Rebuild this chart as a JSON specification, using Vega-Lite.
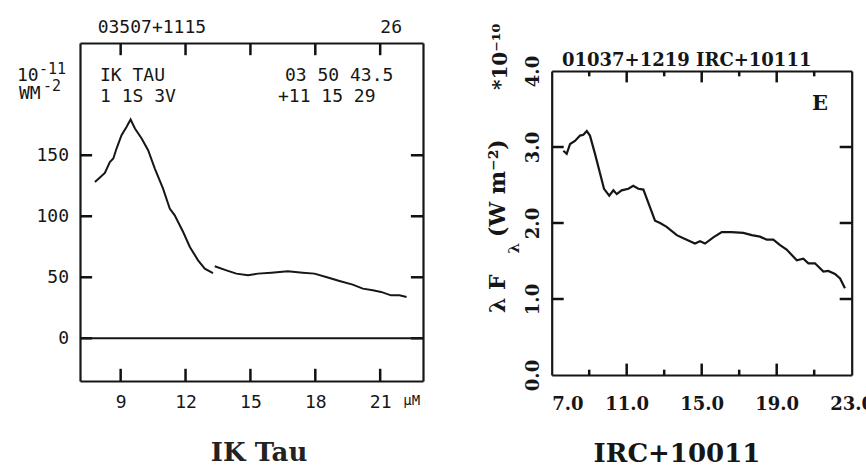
{
  "$schema": "https://vega.github.io/schema/vega-lite/v6.json",
  "width": 866,
  "height": 470,
  "autosize": {"type": "none"},
  "padding": 0,
  "background": "white",
  "config": {
    "view": {"stroke": null},
    "axis": {"grid": false, "domainColor": "#161616", "tickColor": "#161616", "labelColor": "#161616", "domainWidth": 2.2, "title": null}
  },
  "datasets": {
    "iktau": [
      {"seg": 1, "w": 7.81, "f": 128}, {"seg": 1, "w": 8.04, "f": 131.7}, {"seg": 1, "w": 8.27, "f": 135.5}, {"seg": 1, "w": 8.5, "f": 144.5},
      {"seg": 1, "w": 8.66, "f": 147.3}, {"seg": 1, "w": 8.81, "f": 155.5}, {"seg": 1, "w": 9.04, "f": 166.4}, {"seg": 1, "w": 9.27, "f": 173.2},
      {"seg": 1, "w": 9.46, "f": 179.3}, {"seg": 1, "w": 9.66, "f": 171.9}, {"seg": 1, "w": 9.97, "f": 163.7}, {"seg": 1, "w": 10.27, "f": 154.1},
      {"seg": 1, "w": 10.58, "f": 139.1}, {"seg": 1, "w": 10.96, "f": 122.7}, {"seg": 1, "w": 11.27, "f": 106.3}, {"seg": 1, "w": 11.5, "f": 100.8},
      {"seg": 1, "w": 11.89, "f": 87.1}, {"seg": 1, "w": 12.2, "f": 74.8}, {"seg": 1, "w": 12.58, "f": 63.9}, {"seg": 1, "w": 12.89, "f": 57.1},
      {"seg": 1, "w": 13.27, "f": 53.5},
      {"seg": 2, "w": 13.35, "f": 59}, {"seg": 2, "w": 13.89, "f": 55.7}, {"seg": 2, "w": 14.35, "f": 53}, {"seg": 2, "w": 14.89, "f": 51.6},
      {"seg": 2, "w": 15.35, "f": 53}, {"seg": 2, "w": 15.97, "f": 53.8}, {"seg": 2, "w": 16.73, "f": 54.9}, {"seg": 2, "w": 17.42, "f": 53.8},
      {"seg": 2, "w": 17.96, "f": 53}, {"seg": 2, "w": 18.5, "f": 50.3}, {"seg": 2, "w": 19.12, "f": 47}, {"seg": 2, "w": 19.73, "f": 44},
      {"seg": 2, "w": 20.2, "f": 40.7}, {"seg": 2, "w": 20.66, "f": 39.3}, {"seg": 2, "w": 21.04, "f": 38}, {"seg": 2, "w": 21.5, "f": 35.2},
      {"seg": 2, "w": 21.89, "f": 35.2}, {"seg": 2, "w": 22.22, "f": 33.9}
    ],
    "irc": [
      {"w": 7.62, "f": 2.95}, {"w": 7.8, "f": 2.91}, {"w": 7.98, "f": 3.04}, {"w": 8.24, "f": 3.08}, {"w": 8.51, "f": 3.15},
      {"w": 8.69, "f": 3.16}, {"w": 8.87, "f": 3.21}, {"w": 9.04, "f": 3.15}, {"w": 9.31, "f": 2.91}, {"w": 9.58, "f": 2.65},
      {"w": 9.79, "f": 2.45}, {"w": 10.07, "f": 2.36}, {"w": 10.29, "f": 2.43}, {"w": 10.47, "f": 2.38}, {"w": 10.73, "f": 2.43},
      {"w": 11.09, "f": 2.45}, {"w": 11.35, "f": 2.49}, {"w": 11.62, "f": 2.45}, {"w": 11.89, "f": 2.44}, {"w": 12.24, "f": 2.21},
      {"w": 12.51, "f": 2.03}, {"w": 12.78, "f": 2.0}, {"w": 13.13, "f": 1.95}, {"w": 13.67, "f": 1.84}, {"w": 14.11, "f": 1.79},
      {"w": 14.64, "f": 1.73}, {"w": 14.91, "f": 1.76}, {"w": 15.18, "f": 1.73}, {"w": 15.62, "f": 1.81}, {"w": 16.07, "f": 1.88},
      {"w": 16.6, "f": 1.88}, {"w": 17.22, "f": 1.87}, {"w": 17.67, "f": 1.84}, {"w": 18.11, "f": 1.82}, {"w": 18.47, "f": 1.78},
      {"w": 18.82, "f": 1.78}, {"w": 19.18, "f": 1.71}, {"w": 19.53, "f": 1.65}, {"w": 20.07, "f": 1.51}, {"w": 20.42, "f": 1.53},
      {"w": 20.69, "f": 1.47}, {"w": 21.04, "f": 1.47}, {"w": 21.49, "f": 1.36}, {"w": 21.75, "f": 1.37}, {"w": 22.11, "f": 1.33},
      {"w": 22.38, "f": 1.27}, {"w": 22.64, "f": 1.14}
    ]
  },
  "layer": [
    {
      "data": {"name": "iktau"},
      "mark": {"type": "line", "color": "#161616", "strokeWidth": 2},
      "encoding": {
        "detail": {"field": "seg"},
        "x": {"field": "w", "type": "quantitative", "scale": {"domain": [7.12, 22.98], "range": [80, 423], "nice": false, "zero": false},
          "axis": {"orient": "bottom", "offset": -89, "values": [9, 12, 15, 18, 21], "ticks": false, "labelPadding": 12, "labelFlush": false, "labelFont": "DejaVu Sans Mono", "labelFontSize": 18}},
        "y": {"field": "f", "type": "quantitative", "scale": {"domain": [-35, 242], "range": [381, 43], "nice": false, "zero": false},
          "axis": {"orient": "left", "offset": -80, "values": [0, 50, 100, 150], "ticks": false, "labelPadding": 11.5, "labelFont": "DejaVu Sans Mono", "labelFontSize": 18}}
      }
    },
    {
      "data": {"values": [{"t": 9}, {"t": 12}, {"t": 15}, {"t": 18}, {"t": 21}]},
      "mark": {"type": "rule", "color": "#111111", "strokeWidth": 2.5},
      "encoding": {
        "x": {"field": "t", "type": "quantitative", "scale": {"domain": [7.12, 22.98], "range": [80, 423], "nice": false, "zero": false}, "axis": null},
        "y": {"datum": -35, "scale": {"domain": [-35, 242], "range": [381, 43], "nice": false, "zero": false}, "axis": null},
        "y2": {"datum": -25}
      }
    },
    {
      "data": {"values": [{"t": 9}, {"t": 12}, {"t": 15}, {"t": 18}, {"t": 21}]},
      "mark": {"type": "rule", "color": "#111111", "strokeWidth": 2.5},
      "encoding": {
        "x": {"field": "t", "type": "quantitative", "scale": {"domain": [7.12, 22.98], "range": [80, 423], "nice": false, "zero": false}, "axis": null},
        "y": {"datum": 232, "scale": {"domain": [-35, 242], "range": [381, 43], "nice": false, "zero": false}, "axis": null},
        "y2": {"datum": 242}
      }
    },
    {
      "data": {"values": [{"t": 0}, {"t": 50}, {"t": 100}, {"t": 150}]},
      "mark": {"type": "rule", "color": "#111111", "strokeWidth": 2.5},
      "encoding": {
        "y": {"field": "t", "type": "quantitative", "scale": {"domain": [-35, 242], "range": [381, 43], "nice": false, "zero": false}, "axis": null},
        "x": {"datum": 7.12, "scale": {"domain": [7.12, 22.98], "range": [80, 423], "nice": false, "zero": false}, "axis": null},
        "x2": {"datum": 7.68}
      }
    },
    {
      "data": {"values": [{"t": 0}, {"t": 50}, {"t": 100}, {"t": 150}]},
      "mark": {"type": "rule", "color": "#111111", "strokeWidth": 2.5},
      "encoding": {
        "y": {"field": "t", "type": "quantitative", "scale": {"domain": [-35, 242], "range": [381, 43], "nice": false, "zero": false}, "axis": null},
        "x": {"datum": 22.42, "scale": {"domain": [7.12, 22.98], "range": [80, 423], "nice": false, "zero": false}, "axis": null},
        "x2": {"datum": 22.98}
      }
    },
    {
      "data": {"values": [{"level": 0}]},
      "mark": {"type": "rule", "color": "#161616", "strokeWidth": 2},
      "encoding": {
        "x": {"datum": 7.12, "scale": {"domain": [7.12, 22.98], "range": [80, 423], "nice": false, "zero": false}, "axis": null},
        "x2": {"datum": 22.98},
        "y": {"field": "level", "type": "quantitative", "scale": {"domain": [-35, 242], "range": [381, 43], "nice": false, "zero": false}, "axis": null}
      }
    },
    {
      "data": {"name": "iktau"},
      "mark": {"type": "line", "strokeOpacity": 0},
      "encoding": {
        "x": {"field": "w", "type": "quantitative", "scale": {"domain": [7.12, 22.98], "range": [80, 423], "nice": false, "zero": false},
          "axis": {"orient": "top", "offset": -43, "values": [9], "ticks": false, "labels": false}},
        "y": {"field": "f", "type": "quantitative", "scale": {"domain": [-35, 242], "range": [381, 43], "nice": false, "zero": false},
          "axis": {"orient": "right", "offset": -443, "values": [0], "ticks": false, "labels": false}}
      }
    },
    {
      "data": {"values": [
        {"label": "03507+1115", "px": 7.938, "py": 250},
        {"label": "IK TAU", "px": 8.045, "py": 210.9},
        {"label": "1 1S 3V", "px": 8.045, "py": 193.9},
        {"label": "03 50 43.5", "px": 16.599, "py": 210.9},
        {"label": "+11 15 29", "px": 16.275, "py": 193.9}
      ]},
      "mark": {"type": "text", "font": "DejaVu Sans Mono", "fontSize": 18, "baseline": "alphabetic", "align": "left", "color": "#161616"},
      "encoding": {
        "text": {"field": "label"},
        "x": {"field": "px", "type": "quantitative", "scale": {"domain": [7.12, 22.98], "range": [80, 423], "nice": false, "zero": false}, "axis": null},
        "y": {"field": "py", "type": "quantitative", "scale": {"domain": [-35, 242], "range": [381, 43], "nice": false, "zero": false}, "axis": null}
      }
    },
    {
      "data": {"values": [
        {"label": "10", "px": 4.207, "py": 210.86, "fs": 18},
        {"label": "-11", "px": 5.224, "py": 216.6, "fs": 15},
        {"label": "WM", "px": 4.3, "py": 196.4, "fs": 18},
        {"label": "-2", "px": 5.41, "py": 202.6, "fs": 15}
      ]},
      "mark": {"type": "text", "font": "DejaVu Sans Mono", "baseline": "alphabetic", "align": "left", "color": "#161616"},
      "encoding": {
        "text": {"field": "label"},
        "size": {"field": "fs", "type": "quantitative", "scale": null},
        "x": {"field": "px", "type": "quantitative", "scale": {"domain": [7.12, 22.98], "range": [80, 423], "nice": false, "zero": false}, "axis": null},
        "y": {"field": "py", "type": "quantitative", "scale": {"domain": [-35, 242], "range": [381, 43], "nice": false, "zero": false}, "axis": null}
      }
    },
    {
      "data": {"values": [{"label": "26"}]},
      "mark": {"type": "text", "font": "DejaVu Sans Mono", "fontSize": 18, "baseline": "alphabetic", "align": "right", "color": "#161616"},
      "encoding": {
        "text": {"field": "label"},
        "x": {"datum": 22.009, "scale": {"domain": [7.12, 22.98], "range": [80, 423], "nice": false, "zero": false}, "axis": null},
        "y": {"datum": 250, "scale": {"domain": [-35, 242], "range": [381, 43], "nice": false, "zero": false}, "axis": null}
      }
    },
    {
      "data": {"values": [{"label": "µM"}]},
      "mark": {"type": "text", "font": "DejaVu Sans Mono", "fontSize": 14, "baseline": "alphabetic", "align": "left", "color": "#161616"},
      "encoding": {
        "text": {"field": "label"},
        "x": {"datum": 22.069, "scale": {"domain": [7.12, 22.98], "range": [80, 423], "nice": false, "zero": false}, "axis": null},
        "y": {"datum": -54.67, "scale": {"domain": [-35, 242], "range": [381, 43], "nice": false, "zero": false}, "axis": null}
      }
    },
    {
      "data": {"values": [{"label": "IK Tau"}]},
      "mark": {"type": "text", "font": "DejaVu Serif", "fontWeight": "bold", "fontSize": 26, "baseline": "alphabetic", "align": "center", "color": "#222222"},
      "encoding": {
        "text": {"field": "label"},
        "x": {"datum": 15.4, "scale": {"domain": [7.12, 22.98], "range": [80, 423], "nice": false, "zero": false}, "axis": null},
        "y": {"datum": -100.6, "scale": {"domain": [-35, 242], "range": [381, 43], "nice": false, "zero": false}, "axis": null}
      }
    },
    {
      "data": {"name": "irc"},
      "mark": {"type": "line", "color": "#161616", "strokeWidth": 2.2},
      "encoding": {
        "x": {"field": "w", "type": "quantitative", "scale": {"domain": [7, 23], "range": [551.7, 851.7], "nice": false, "zero": false},
          "axis": {"orient": "bottom", "offset": -95, "values": [7, 11, 15, 19, 23], "format": ".1f", "ticks": false, "labelPadding": 20, "labelFlush": false,
            "labelAlign": {"condition": {"test": "datum.value <= 7", "value": "left"}, "value": "center"},
            "labelFont": "DejaVu Serif", "labelFontWeight": "bold", "labelFontSize": 18}},
        "y": {"field": "f", "type": "quantitative", "scale": {"domain": [0, 4], "range": [375, 71], "nice": false, "zero": false},
          "axis": {"orient": "left", "offset": -551.7, "values": [0, 1, 2, 3, 4], "format": ".1f", "ticks": false, "labelPadding": 13.7, "labelAngle": 270,
            "labelAlign": "center", "labelBaseline": "alphabetic",
            "labelFont": "DejaVu Serif", "labelFontWeight": "bold", "labelFontSize": 18}}
      }
    },
    {
      "data": {"values": [{"t": 11}, {"t": 15}, {"t": 19}]},
      "mark": {"type": "rule", "color": "#111111", "strokeWidth": 2.5},
      "encoding": {
        "x": {"field": "t", "type": "quantitative", "scale": {"domain": [7, 23], "range": [551.7, 851.7], "nice": false, "zero": false}, "axis": null},
        "y": {"datum": 0, "scale": {"domain": [0, 4], "range": [375, 71], "nice": false, "zero": false}, "axis": null},
        "y2": {"datum": 0.15}
      }
    },
    {
      "data": {"values": [{"t": 11}, {"t": 15}, {"t": 19}]},
      "mark": {"type": "rule", "color": "#111111", "strokeWidth": 2.5},
      "encoding": {
        "x": {"field": "t", "type": "quantitative", "scale": {"domain": [7, 23], "range": [551.7, 851.7], "nice": false, "zero": false}, "axis": null},
        "y": {"datum": 3.85, "scale": {"domain": [0, 4], "range": [375, 71], "nice": false, "zero": false}, "axis": null},
        "y2": {"datum": 4}
      }
    },
    {
      "data": {"values": [{"t": 9}, {"t": 13}, {"t": 17}, {"t": 21}]},
      "mark": {"type": "rule", "color": "#111111", "strokeWidth": 2.5},
      "encoding": {
        "x": {"field": "t", "type": "quantitative", "scale": {"domain": [7, 23], "range": [551.7, 851.7], "nice": false, "zero": false}, "axis": null},
        "y": {"datum": 0, "scale": {"domain": [0, 4], "range": [375, 71], "nice": false, "zero": false}, "axis": null},
        "y2": {"datum": 0.07}
      }
    },
    {
      "data": {"values": [{"t": 9}, {"t": 13}, {"t": 17}, {"t": 21}]},
      "mark": {"type": "rule", "color": "#111111", "strokeWidth": 2.5},
      "encoding": {
        "x": {"field": "t", "type": "quantitative", "scale": {"domain": [7, 23], "range": [551.7, 851.7], "nice": false, "zero": false}, "axis": null},
        "y": {"datum": 3.93, "scale": {"domain": [0, 4], "range": [375, 71], "nice": false, "zero": false}, "axis": null},
        "y2": {"datum": 4}
      }
    },
    {
      "data": {"values": [{"t": 1}, {"t": 2}, {"t": 3}]},
      "mark": {"type": "rule", "color": "#111111", "strokeWidth": 2.5},
      "encoding": {
        "y": {"field": "t", "type": "quantitative", "scale": {"domain": [0, 4], "range": [375, 71], "nice": false, "zero": false}, "axis": null},
        "x": {"datum": 7, "scale": {"domain": [7, 23], "range": [551.7, 851.7], "nice": false, "zero": false}, "axis": null},
        "x2": {"datum": 7.64}
      }
    },
    {
      "data": {"values": [{"t": 1}, {"t": 2}, {"t": 3}]},
      "mark": {"type": "rule", "color": "#111111", "strokeWidth": 2.5},
      "encoding": {
        "y": {"field": "t", "type": "quantitative", "scale": {"domain": [0, 4], "range": [375, 71], "nice": false, "zero": false}, "axis": null},
        "x": {"datum": 22.36, "scale": {"domain": [7, 23], "range": [551.7, 851.7], "nice": false, "zero": false}, "axis": null},
        "x2": {"datum": 23}
      }
    },
    {
      "data": {"name": "irc"},
      "mark": {"type": "line", "strokeOpacity": 0},
      "encoding": {
        "x": {"field": "w", "type": "quantitative", "scale": {"domain": [7, 23], "range": [551.7, 851.7], "nice": false, "zero": false},
          "axis": {"orient": "top", "offset": -71, "values": [11], "ticks": false, "labels": false}},
        "y": {"field": "f", "type": "quantitative", "scale": {"domain": [0, 4], "range": [375, 71], "nice": false, "zero": false},
          "axis": {"orient": "right", "offset": -14.3, "values": [1], "ticks": false, "labels": false}}
      }
    },
    {
      "data": {"values": [
        {"label": "01037+1219  IRC+10111", "px": 14.2, "py": 4.07, "fs": 18},
        {"label": "E", "px": 21.31, "py": 3.487, "fs": 21},
        {"label": "IRC+10011", "px": 13.68, "py": -1.14, "fs": 26}
      ]},
      "mark": {"type": "text", "font": "DejaVu Serif", "fontWeight": "bold", "baseline": "alphabetic", "align": "center", "color": "#161616"},
      "encoding": {
        "text": {"field": "label"},
        "size": {"field": "fs", "type": "quantitative", "scale": null},
        "x": {"field": "px", "type": "quantitative", "scale": {"domain": [7, 23], "range": [551.7, 851.7], "nice": false, "zero": false}, "axis": null},
        "y": {"field": "py", "type": "quantitative", "scale": {"domain": [0, 4], "range": [375, 71], "nice": false, "zero": false}, "axis": null}
      }
    },
    {
      "data": {"values": [
        {"label": "λ F", "px": 4.51, "py": 0.816, "fs": 22},
        {"label": "λ", "px": 5.25, "py": 1.6, "fs": 15},
        {"label": "(W m⁻²)", "px": 4.51, "py": 1.816, "fs": 22},
        {"label": "*10⁻¹⁰", "px": 4.62, "py": 3.75, "fs": 20}
      ]},
      "mark": {"type": "text", "font": "DejaVu Serif", "fontWeight": "bold", "baseline": "alphabetic", "align": "left", "angle": 270, "color": "#161616"},
      "encoding": {
        "text": {"field": "label"},
        "size": {"field": "fs", "type": "quantitative", "scale": null},
        "x": {"field": "px", "type": "quantitative", "scale": {"domain": [7, 23], "range": [551.7, 851.7], "nice": false, "zero": false}, "axis": null},
        "y": {"field": "py", "type": "quantitative", "scale": {"domain": [0, 4], "range": [375, 71], "nice": false, "zero": false}, "axis": null}
      }
    }
  ],
  "resolve": {
    "scale": {"x": "independent", "y": "independent"},
    "axis": {"x": "independent", "y": "independent"}
  }
}
